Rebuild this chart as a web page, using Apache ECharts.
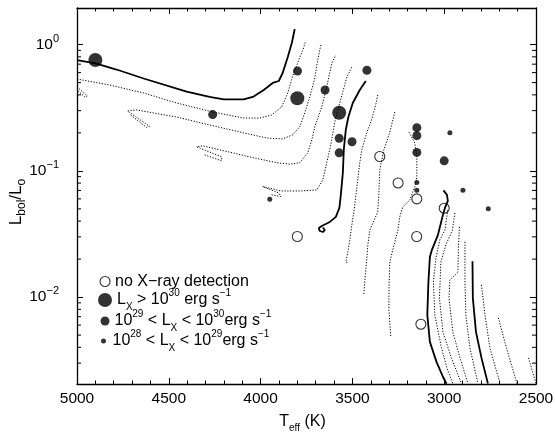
<!DOCTYPE html>
<html><head><meta charset="utf-8">
<script src="https://cdn.jsdelivr.net/npm/echarts@6/dist/echarts.min.js"></script>
<style>html,body{margin:0;padding:0;background:#fff}#c{width:555px;height:435px}</style>
</head><body><div id="c"></div>
<script>
const FONT = '"Liberation Sans", Arial, Helvetica, sans-serif';

// ---- stars: [Teff (K), Lbol/Lsun] ----
const noXray    = [[3351,0.130],[3251,0.0802],[3149,0.0600],[3000,0.0506],[3800,0.0302],[3150,0.0302],[3127,0.0061]];
const lxAbove30 = [[4900,0.755],[3800,0.376],[3572,0.289]];
const lx29to30  = [[4261,0.279],[3799,0.618],[3649,0.437],[3421,0.626],[3572,0.181],[3502,0.170],[3572,0.139],[3149,0.220],[3149,0.190],[3149,0.140],[3000,0.120]];
const lx28to29  = [[3950,0.0596],[2969,0.200],[3149,0.0807],[3149,0.0703],[2898,0.0703],[2760,0.0502]];

// ---- solid model curves ----
const solid1 = [[5000,0.755],[4899,0.709],[4785,0.635],[4637,0.539],[4403,0.425],[4278,0.385],[4201,0.368],[4092,0.368],[4038,0.388],[3983,0.437],[3934,0.497],[3901,0.515],[3880,0.596],[3852,0.798],[3830,1.03],[3814,1.33]];
const solid2 = [[3427,0.515],[3460,0.437],[3498,0.345],[3522,0.267],[3536,0.211],[3547,0.146],[3552,0.0963],[3563,0.0645],[3571,0.0509],[3590,0.0432],[3623,0.0394],[3667,0.0366],[3683,0.0353],[3678,0.0334],[3661,0.0328],[3650,0.0340],[3661,0.0356]];
const solid3 = [[3004,0.0700],[2985,0.0645],[2980,0.0578],[2996,0.0509],[3007,0.0448],[3034,0.0311],[3067,0.0237],[3078,0.0208],[3086,0.0132],[3092,0.00723],[3078,0.00442],[3042,0.00307],[3007,0.00234],[2988,0.00206]];
const solid4 = [[2846,0.0192],[2844,0.00986],[2827,0.00530],[2797,0.00330],[2762,0.00207]];

// ---- dotted model curves ----
const dotA  = [[5000,0.534],[4823,0.479],[4637,0.414],[4458,0.345],[4261,0.293],[4092,0.262],[4005,0.262],[3940,0.277],[3885,0.321],[3852,0.414],[3825,0.564],[3792,0.755],[3770,0.906],[3754,1.07]];
const dotA2 = [[5000,0.462],[4943,0.392],[4954,0.381],[5000,0.437]];
const dotB  = [[4708,0.277],[4621,0.221],[4605,0.225],[4725,0.298],[4676,0.304],[4458,0.267],[4278,0.231],[4092,0.200],[3967,0.182],[3880,0.179],[3825,0.193],[3787,0.223],[3760,0.287],[3732,0.385],[3705,0.544],[3689,0.755],[3672,0.993]];
const dotC  = [[4305,0.134],[4212,0.120],[4212,0.129],[4348,0.155],[4316,0.158],[4059,0.129],[3912,0.116],[3841,0.113],[3787,0.116],[3743,0.139],[3721,0.176],[3705,0.223],[3667,0.321],[3640,0.462],[3612,0.715],[3590,0.828]];
const dotD  = [[3940,0.0645],[3890,0.0627],[3901,0.0668],[3989,0.0752],[3890,0.0693],[3787,0.0693],[3694,0.0706],[3661,0.0847],[3640,0.1155],[3618,0.160],[3596,0.244],[3569,0.345],[3530,0.554],[3503,0.665]];
const dotE  = [[3362,0.399],[3372,0.339],[3394,0.258],[3422,0.200],[3449,0.146],[3460,0.1155],[3471,0.0847],[3487,0.0537],[3503,0.0373],[3514,0.0284],[3525,0.0228],[3536,0.0190],[3520,0.0187]];
const dotF  = [[3269,0.293],[3296,0.203],[3329,0.146],[3351,0.102],[3356,0.0645],[3362,0.0473],[3405,0.0340],[3416,0.0259],[3422,0.0197],[3432,0.0137],[3438,0.0104]];
const dotH  = [[3192,0.203],[3160,0.166],[3149,0.129],[3149,0.0895],[3160,0.0746],[3187,0.0589],[3225,0.0518],[3242,0.0432],[3252,0.0340],[3280,0.0237],[3296,0.0190],[3301,0.0114],[3301,0.00792],[3291,0.00484]];
const dotP  = [[2980,0.0490],[2996,0.0340],[3024,0.0284],[3045,0.0204],[3059,0.0132],[3051,0.00723],[3015,0.00396],[2985,0.00275],[2953,0.00207]];
const dotQ  = [[2942,0.0464],[2955,0.0340],[2991,0.0259],[3018,0.0190],[3026,0.00986],[3007,0.00530],[2961,0.00330],[2906,0.00207]];
const dotR  = [[2917,0.0360],[2923,0.0237],[2925,0.0158],[2969,0.0137],[2974,0.00986],[2953,0.00530],[2914,0.00330],[2871,0.00207]];
const dotS  = [[2887,0.0274],[2887,0.0132],[2882,0.00723],[2860,0.00396],[2816,0.00207]];
const dotT  = [[2797,0.0125],[2778,0.00723],[2751,0.00396],[2696,0.00207]];
const dotU  = [[2705,0.00685],[2661,0.00396],[2604,0.00207]];
const dotV  = [[2541,0.00330],[2500,0.00207]];

// ---- axes ----
const xMin = 2500, xMax = 5000, xStep = 500;
const yMin = 0.00205, yMax = 1.95;
const yMinorTicks = [0.003,0.004,0.005,0.006,0.007,0.008,0.009,
                     0.02,0.03,0.04,0.05,0.06,0.07,0.08,0.09,
                     0.2,0.3,0.4,0.5,0.6,0.7,0.8,0.9];

// ---- legend ----
const seriesNames  = ['no X-ray detection','Lx > 1e30','1e29 < Lx < 1e30','1e28 < Lx < 1e29'];
const legendLabels = ['no X\u2212ray detection',
  'L{sub|X} > 10{sup|30} erg s{sup|\u22121}',
  '10{sup|29} < L{sub|X} < 10{sup|30}erg s{sup|\u22121}',
  '10{sup|28} < L{sub|X} < 10{sup|29}erg s{sup|\u22121}'];

const solidTracks  = [solid1, solid2, solid3, solid4];
const dottedTracks = [dotA, dotA2, dotB, dotC, dotD, dotE, dotF, dotH, dotP, dotQ, dotR, dotS, dotT, dotU, dotV];

const supSub = {
  sup: {fontSize: 10, fontFamily: FONT, color: '#000', padding: [0,0,13,0]},
  sub: {fontSize: 10, fontFamily: FONT, color: '#000', padding: [15,0,0,0]}
};

function xAxisCfg(pos, showLabel) {
  return {
    type: 'value', position: pos, inverse: true, min: xMin, max: xMax, interval: xStep,
    axisLine: {show: true, onZero: false, lineStyle: {color: '#000', width: 1.3}},
    axisTick: {show: true, inside: true, length: 6, lineStyle: {color: '#000', width: 1}},
    minorTick: {show: true, splitNumber: 5, length: 3.5, lineStyle: {color: '#000', width: 1}},
    splitLine: {show: false}, minorSplitLine: {show: false},
    axisLabel: {show: showLabel, color: '#000', fontSize: 15.5, fontFamily: FONT, margin: 7,
                showMinLabel: true, showMaxLabel: true, formatter: v => String(v)},
    name: showLabel ? 'T{sub|eff} (K)' : '', nameLocation: 'middle', nameGap: 27, nameMoveOverlap: false,
    nameTextStyle: {color: '#000', fontSize: 16, fontFamily: FONT, padding: [0, 8, 0, 0],
      rich: {sub: {fontSize: 10, fontFamily: FONT, color: '#000', padding: [12,0,0,0]}}}
  };
}
function yAxisCfg(pos, showLabel) {
  return {
    type: 'log', logBase: 10, position: pos, min: yMin, max: yMax,
    axisLine: {show: true, onZero: false, lineStyle: {color: '#000', width: 1.3}},
    axisTick: {show: true, inside: true, length: 6, lineStyle: {color: '#000', width: 1}},
    splitLine: {show: false},
    axisLabel: {show: showLabel, color: '#000', fontSize: 15.5, fontFamily: FONT, margin: 18,
      showMinLabel: false, showMaxLabel: false,
      formatter: function (v) {
        const e = Math.log10(v), r = Math.round(e);
        if (Math.abs(e - r) > 1e-6) return '';
        return '10{sup|' + (r < 0 ? '\u2212' + (-r) : String(r)) + '}';
      },
      rich: {sup: {fontSize: 11, fontFamily: FONT, color: '#000', padding: [0,0,12,0]}}
    },
    name: showLabel ? 'L{sub|bol}/L{sub|o}' : '', nameLocation: 'middle', nameGap: 49, nameMoveOverlap: false,
    nameTextStyle: {color: '#000', fontSize: 17, fontFamily: FONT, padding: [0, 12, 0, 0],
      rich: {sub: {fontSize: 12, fontFamily: FONT, color: '#000', padding: [12,0,0,0]}}}
  };
}

const series = [];
dottedTracks.forEach(d => series.push({
  type: 'line', data: d, symbol: 'none', silent: true, z: 2,
  lineStyle: {color: '#000', width: 1, type: [1.2, 1.6]}
}));
solidTracks.forEach(d => series.push({
  type: 'line', data: d, symbol: 'none', silent: true, z: 3,
  lineStyle: {color: '#000', width: 1.8, type: 'solid'}
}));
series.push({
  type: 'custom', silent: true, z: 6, clip: false,
  data: yMinorTicks.map(v => [xMax, v]),
  renderItem: function (params, api) {
    const v = api.value(1);
    const l = api.coord([xMax, v]), r = api.coord([xMin, v]);
    return {type: 'group', children: [
      {type: 'line', shape: {x1: l[0], y1: l[1], x2: l[0] + 4, y2: l[1]}, style: {stroke: '#000', lineWidth: 1}},
      {type: 'line', shape: {x1: r[0] - 4, y1: r[1], x2: r[0], y2: r[1]}, style: {stroke: '#000', lineWidth: 1}}
    ]};
  }
});
const starSets = [
  {data: noXray, size: 10, style: {color: 'rgba(0,0,0,0)', borderColor: '#000', borderWidth: 1.1}},
  {data: lxAbove30, size: 14, style: {color: '#000', borderWidth: 0}},
  {data: lx29to30, size: 9, style: {color: '#000', borderWidth: 0}},
  {data: lx28to29, size: 5, style: {color: '#000', borderWidth: 0}}
];
starSets.forEach((s, i) => series.push({
  type: 'scatter', name: seriesNames[i], data: s.data, symbol: 'circle', symbolSize: s.size,
  itemStyle: s.style, z: 5, silent: true
}));

function legendCfg(i, left, top, w, h) {
  return {
    data: [{name: seriesNames[i], icon: 'circle'}],
    left: left, top: top, padding: 0, itemWidth: w, itemHeight: h,
    selectedMode: false, orient: 'vertical',
    itemStyle: starSets[i].style,
    formatter: () => legendLabels[i],
    textStyle: {color: '#000', fontSize: 16, fontFamily: FONT, rich: supSub}
  };
}

const chart = echarts.init(document.getElementById('c'), null, {renderer: 'canvas'});
chart.setOption({
  backgroundColor: '#fff',
  animation: false,
  textStyle: {fontFamily: FONT, color: '#000'},
  grid: {left: 77, top: 8, width: 459, height: 376, containLabel: false, outerBoundsMode: 'none'},
  xAxis: [xAxisCfg('bottom', true), xAxisCfg('top', false)],
  yAxis: [yAxisCfg('left', true), yAxisCfg('right', false)],
  legend: [
    legendCfg(0, 99.5, 273.5, 10, 10),
    legendCfg(1, 98, 288.5, 14, 14),
    legendCfg(2, 100.5, 309.5, 9, 9),
    legendCfg(3, 101, 329.5, 8, 5)
  ],
  tooltip: {show: false},
  series: series
});
</script>
</body></html>
